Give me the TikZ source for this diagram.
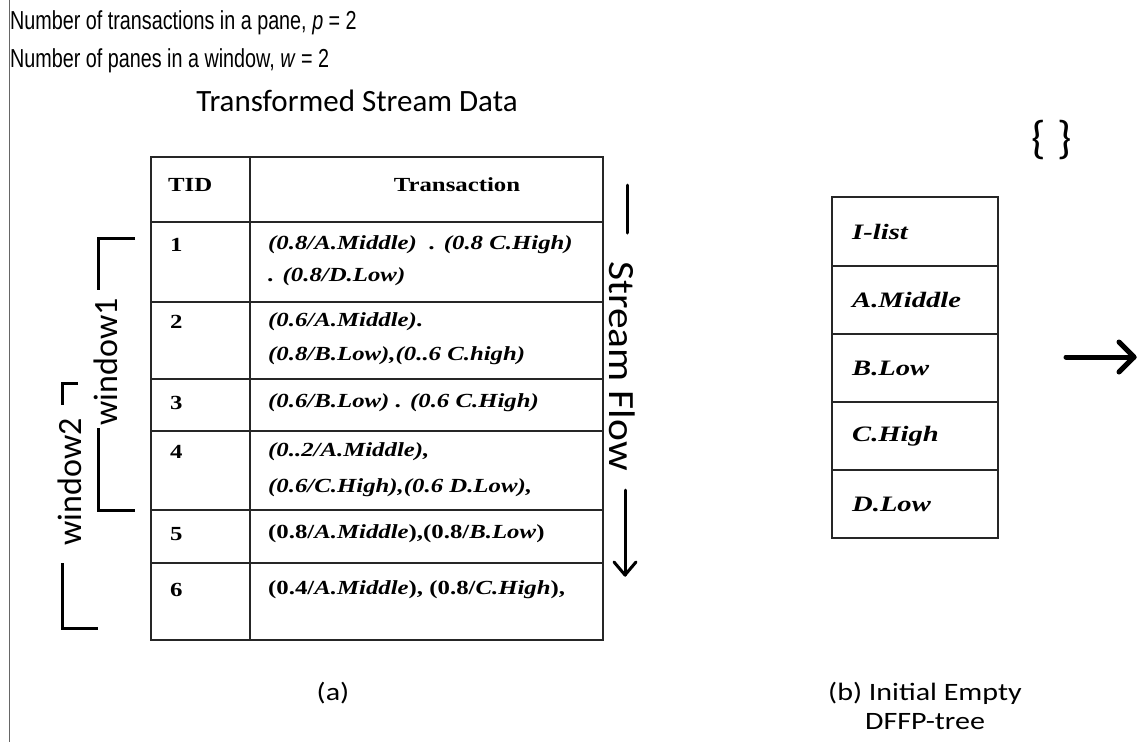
\documentclass[tikz,border=0pt]{standalone}
\usepackage{fontspec}
\setmainfont[FakeStretch=1.24]{Liberation Serif}
\newfontfamily\widesf[FakeStretch=1.3]{Liberation Serif}
\newfontfamily\narrowsans[FakeStretch=0.76]{Liberation Sans}
\newfontfamily\calib{Carlito}
\newfontfamily\calibw[FakeStretch=1.2]{Carlito}
\newfontfamily\calibm[FakeStretch=1.12]{Carlito}
\usetikzlibrary{arrows.meta}
\begin{document}
\begin{tikzpicture}[x=1pt,y=-1pt,
  grid/.style={line width=1.8pt,draw=black!85},
  cell/.style={font=\fontsize{20}{22}\selectfont\bfseries\itshape,anchor=west,inner sep=0pt},
  num/.style={font=\fontsize{20}{22}\selectfont\bfseries,anchor=west,inner sep=0pt},
  lcell/.style={font=\widesf\fontsize{22}{24}\selectfont\bfseries\itshape,anchor=west,inner sep=0pt},
  toptext/.style={font=\narrowsans\fontsize{26}{30}\selectfont,anchor=west,inner sep=0pt},
  caltext/.style={font=\calibw\fontsize{25}{28}\selectfont,inner sep=0pt},
  wintext/.style={font=\calib\fontsize{34}{38}\selectfont,inner sep=0pt},
  bracket/.style={line width=3pt},
  flow/.style={line width=3pt,line cap=round,line join=round},
  bigarrow/.style={line width=5pt,line cap=round,line join=round}]
\useasboundingbox (0,0) rectangle (1140,742);
\fill[white] (0,0) rectangle (1140,742);
% left border line
\draw[black!60,line width=1pt] (9.5,0) -- (9.5,742);

% top texts
\node[toptext] (l1) at (10,23) {Number of transactions in a pane, \textit{p} = 2};
\node[toptext] (l2) at (10,61) {Number of panes in a window, \textit{w} = 2};
\node[inner sep=0pt,font=\calib\fontsize{31}{34}\selectfont] (title) at (357,101) {Transformed Stream Data};

% main table grid
\draw[grid] (151,157) rectangle (603,640);
\foreach \yy in {222,302,379,431,510,563} \draw[grid] (151,\yy) -- (603,\yy);
\draw[grid] (250,157) -- (250,640);

% header
\node[num] (tid) at (168,185) {TID};
\node[num,anchor=center] (trans) at (457,185) {Transaction};

% rows
\node[num] (n1) at (170,245) {1};
\node[cell] (r1a) at (268,245) {(0.8/A.Middle)\ \ . (0.8 C.High)};
\node[cell] (r1b) at (268,277) {. (0.8/D.Low)};
\node[num] (n2) at (170,322) {2};
\node[cell] (r2a) at (268,322) {(0.6/A.Middle).};
\node[cell] (r2b) at (268,356) {(0.8/B.Low),(0..6 C.high)};
\node[num] (n3) at (170,403) {3};
\node[cell] (r3a) at (268,403) {(0.6/B.Low) . (0.6 C.High)};
\node[num] (n4) at (170,452) {4};
\node[cell] (r4a) at (268,452) {(0..2/A.Middle),};
\node[cell] (r4b) at (268,488) {(0.6/C.High),(0.6 D.Low),};
\node[num] (n5) at (170,534) {5};
\node[num] (r5a) at (268,534) {(0.8/\textit{A.Middle}),(0.8/\textit{B.Low})};
\node[num] (n6) at (170,590) {6};
\node[num] (r6a) at (268,590) {(0.4/\textit{A.Middle}), (0.8/\textit{C.High}),};

% window brackets
\node[wintext,rotate=90] (w1) at (106,362) {window1};
\node[wintext,rotate=90] (w2) at (70,482) {window2};
\draw[bracket] (135,238) -- (98,238) -- (98,290);
\draw[bracket] (98,428) -- (98,510) -- (135,510);
\draw[bracket] (78,383) -- (62,383) -- (62,405);
\draw[bracket] (62,563) -- (62,628) -- (98,628);

% stream flow
\node[inner sep=0pt,rotate=-90,font=\calibm\fontsize{37}{40}\selectfont] (sf) at (622,366) {Stream Flow};
\draw[flow] (627,185) -- (627,233);
\coordinate (fs) at (625,490);
\coordinate (fe) at (625,575);
\draw[flow] (fs) -- (fe);
\draw[flow] ([shift={(-11,-13)}]fe) -- (fe) -- ([shift={(11,-13)}]fe);

% I-list table
\draw[grid] (832,197) rectangle (998,538);
\foreach \yy in {266,334,402,470} \draw[grid] (832,\yy) -- (998,\yy);
\node[lcell] (il) at (852,232) {I-list};
\node[lcell] (am) at (852,300) {A.Middle};
\node[lcell] (bl) at (852,368) {B.Low};
\node[lcell] (ch) at (852,436) {C.High};
\node[lcell] (dl) at (852,504) {D.Low};

% empty tree and arrow
\node[inner sep=0pt,font=\calib\fontsize{46}{50}\selectfont] (root) at (1052,140) {\{\hspace{12pt}\}};
\coordinate (as) at (1066,357);
\coordinate (ae) at (1134,357);
\draw[bigarrow] (as) -- (ae);
\draw[bigarrow] ([shift={(-15,-15)}]ae) -- (ae) -- ([shift={(-15,15)}]ae);

% captions
\node[caltext] (capa) at (333,693) {(a)};
\node[caltext] (capb1) at (925,693) {(b) Initial Empty};
\node[caltext] (capb2) at (925,722) {DFFP-tree};
\end{tikzpicture}
\end{document}
